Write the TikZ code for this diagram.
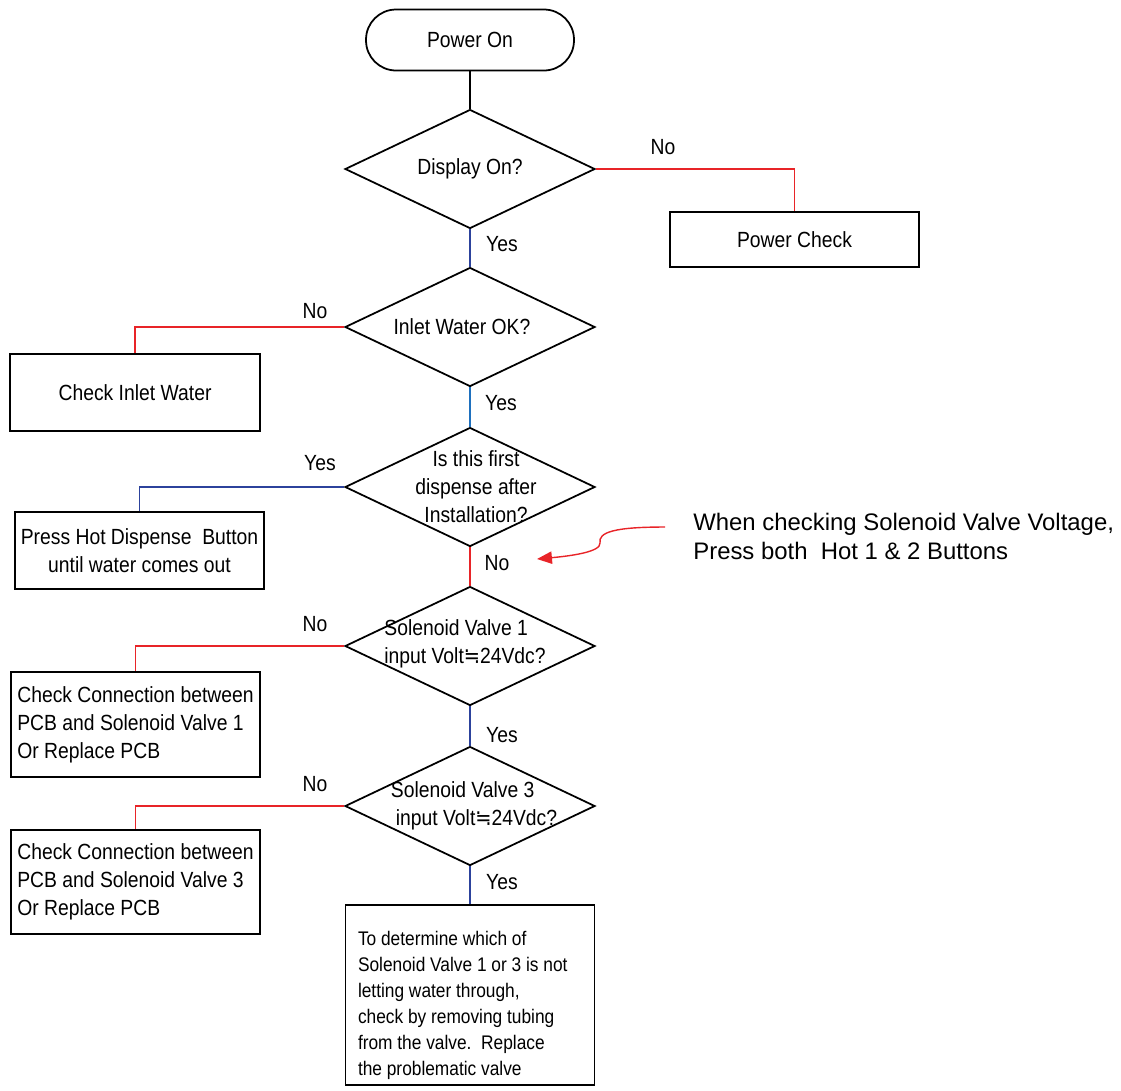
\documentclass[tikz,border=0pt]{standalone}
\usepackage{fontspec}
\setmainfont{Liberation Sans}
\newfontfamily\flowfont[FakeStretch=0.88]{Liberation Sans}
\newfontfamily\symfont[FakeStretch=0.88]{DejaVu Sans}
\usetikzlibrary{arrows.meta,shapes.geometric,positioning,calc}
\definecolor{nored}{RGB}{232,36,40}
\definecolor{yesblue}{RGB}{44,66,156}
\definecolor{yeslight}{RGB}{30,112,190}
\newcommand{\aeq}{{\symfont ≒}}

\begin{document}
\begin{tikzpicture}[x=0.02cm,y=-0.02cm,font=\flowfont\fontsize{12.5}{16}\selectfont]
  \tikzstyle{terminal}=[draw,line width=1pt,rounded corners=0.6cm,minimum width=4.16cm,minimum height=1.22cm,inner sep=0pt]
  \tikzstyle{process}=[draw,line width=1pt,inner sep=0pt]
  \tikzstyle{decision}=[diamond,draw,line width=1pt,minimum width=5cm,minimum height=2.38cm,inner sep=0pt]
  \tikzstyle{lab}=[inner sep=0pt]
  \tikzstyle{no}=[nored,line width=0.8pt]
  \tikzstyle{yes}=[yesblue,line width=0.8pt]
  \useasboundingbox (0,0) rectangle (1121,1090);
  % main column
  \node[terminal] (pwr) at (470,40) {Power On};
  \node[decision,label={[lab]center:Display On?}] (dispq) at (470,169) {};
  \node[decision,label={[lab,xshift=-0.16cm]center:Inlet Water OK?}] (inletq) at (470,327) {};
  \node[decision,label={[lab,align=center,xshift=0.12cm]center:{Is this first\\dispense after\\Installation?}}] (firstq) at (470,487) {};
  \node[decision,label={[lab,align=left,xshift=-0.1cm,yshift=0.04cm]center:{Solenoid Valve 1\\input Volt\aeq24Vdc?}}] (sol1q) at (470,646) {};
  \node[decision,label={[lab,align=left,xshift=0.08cm]center:{Solenoid Valve 3\\\hspace{0.1cm}input Volt\aeq24Vdc?}}] (sol3q) at (470,806) {};
  \node[process,minimum width=4.98cm,minimum height=3.6cm,
        label={[lab,anchor=north west,align=left,font=\flowfont\fontsize{11.2}{14.8}\selectfont,xshift=0.26cm,yshift=-0.54cm]north west:{To determine which of\\Solenoid Valve 1 or 3 is not\\letting water through,\\check by removing tubing\\from the valve.\ \ Replace\\the problematic valve}}] (final) at (470,995) {};
  % side boxes
  \node[process,minimum width=4.98cm,minimum height=1.1cm] (pwrchk) at (794.5,239.5) {Power Check};
  \node[process,minimum width=5cm,minimum height=1.54cm] (chkin) at (135,392.5) {Check Inlet Water};
  \node[process,minimum width=4.98cm,minimum height=1.54cm,align=center] (hotbtn) at (139.5,550.5) {Press Hot Dispense\ \ Button\\until water comes out};
  \node[process,minimum width=4.98cm,minimum height=2.1cm,align=left] (conn1) at (135.5,724.5) {Check Connection between\\PCB and Solenoid Valve 1\\Or Replace PCB};
  \node[process,minimum width=4.98cm,minimum height=2.08cm,align=left] (conn3) at (135.5,882) {Check Connection between\\PCB and Solenoid Valve 3\\Or Replace PCB};
  % note
  \node[lab,anchor=west,align=left,font=\rmfamily\fontsize{13.6}{16.5}\selectfont] (note) at (693,536.5) {When checking Solenoid Valve Voltage,\\Press both\ \ Hot 1 \& 2 Buttons};
  \coordinate (notetail) at (665,527);
  \coordinate (notetip) at (537,559);
  % branch labels
  \node[lab] (ydisp) at (502,244) {Yes};
  \node[lab] (ndisp) at (663,147) {No};
  \node[lab] (ninlet) at (315,311) {No};
  \node[lab] (yinlet) at (501,403) {Yes};
  \node[lab] (yfirst) at (320,463) {Yes};
  \node[lab] (nfirst) at (497,563) {No};
  \node[lab] (nsol1) at (315,624) {No};
  \node[lab] (ysol1) at (502,735) {Yes};
  \node[lab] (nsol3) at (315,784) {No};
  \node[lab] (ysol3) at (502,882) {Yes};
  % connectors
  \draw[line width=0.8pt] (pwr) -- (dispq);
  \draw[no] (dispq.east) -| (pwrchk.north);
  \draw[yes] (dispq) -- (inletq);
  \draw[no] (inletq.west) -| (chkin.north);
  \draw[yeslight,line width=0.8pt] (inletq) -- (firstq);
  \draw[yes] (firstq.west) -| (hotbtn.north);
  \draw[no] (firstq) -- (sol1q);
  \draw[no] (sol1q.west) -| (conn1.north);
  \draw[yes] (sol1q) -- (sol3q);
  \draw[no] (sol3q.west) -| (conn3.north);
  \draw[yes] (sol3q) -- (final);
  \draw[nored,line width=0.8pt,-{Triangle[length=8.5pt,width=7pt]}] (notetail) .. controls (615,527) and (598,532) .. (600,543) .. controls (601,552) and (570,556) .. (notetip);
\end{tikzpicture}
\end{document}
